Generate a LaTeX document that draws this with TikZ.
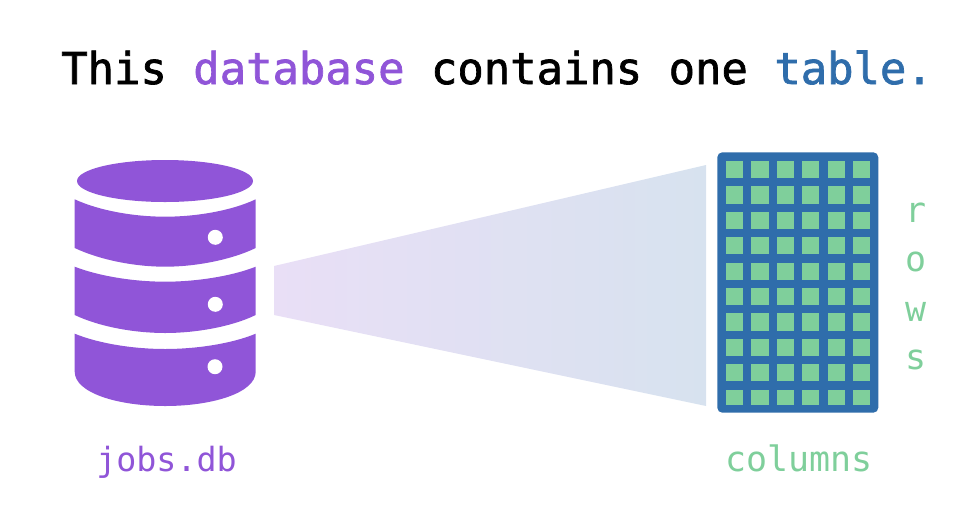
\documentclass[tikz,border=0pt]{standalone}
\usepackage{fontspec}
\setmonofont{DejaVu Sans Mono}
\newfontfamily\titlefont[RawFeature={embolden=1.6}]{DejaVu Sans Mono}
\newfontfamily\lblfont{DejaVu Sans Mono}
\definecolor{dbpurple}{HTML}{9055D8}
\definecolor{tblblue}{HTML}{2F6DAB}
\definecolor{cellgreen}{HTML}{7FCF9B}
\definecolor{fadeL}{HTML}{E9DFF6}
\definecolor{fadeR}{HTML}{D7E2EF}
\tikzset{
  x=0.75pt,y=-0.75pt,
  titletext/.style={anchor=base west,inner sep=0pt,font=\titlefont\fontsize{32.9}{33}\selectfont},
  labeltext/.style={anchor=base,inner sep=0pt,text=cellgreen,font=\lblfont\fontsize{26.2}{26.2}\selectfont},
  hole/.style={fill=white,draw=none},
  cell/.style={fill=cellgreen,draw=none},
}
\begin{document}
\begin{tikzpicture}
\useasboundingbox (0,0) rectangle (976,512);
\node[titletext] (title) at (61,84) {This \textcolor{dbpurple}{database} contains one \textcolor{tblblue}{table.}};
% database icon
\fill[dbpurple] (165,181) ellipse [x radius=88,y radius=21];
\fill[dbpurple] (74.7,199.3) .. controls (100,211) and (135,216.7) .. (165.2,216.7) .. controls (195,216.7) and (231,211) .. (255.7,199.3)
  -- (255.7,248) .. controls (231,260) and (195,266.7) .. (165.2,266.7) .. controls (135,266.7) and (100,260) .. (74.7,248) -- cycle;
\fill[dbpurple] (74.7,266.7) .. controls (100,276.5) and (135,281.7) .. (165.2,281.7) .. controls (195,281.7) and (231,276.5) .. (255.7,266.7)
  -- (255.7,315) .. controls (231,327) and (195,333) .. (165.2,333) .. controls (135,333) and (100,327) .. (74.7,315) -- cycle;
\fill[dbpurple] (74.7,333.7) .. controls (100,344) and (135,349) .. (165.2,349) .. controls (195,349) and (231,344) .. (255.7,333.7)
  -- (255.7,371.7) .. controls (255.7,393) and (212,406) .. (165.2,406) .. controls (118,406) and (74.7,393) .. (74.7,371.7) -- cycle;
\fill[hole] (215.3,237.3) circle [radius=7.5];
\fill[hole] (215.3,304.3) circle [radius=7.5];
\fill[hole] (215,366.7) circle [radius=7.5];
% funnel
\shade[left color=fadeL,right color=fadeR] (274,266) -- (706,165) -- (706,406) -- (274,315) -- cycle;
% table
\fill[tblblue,rounded corners=5*0.75pt] (717.3,152.3) rectangle (878.3,412.7);
\foreach \cx in {725.7,751.3,777,802,827.7,853}{
  \foreach \cy in {160.7,186.3,212,237,262.7,288,313.3,338.7,364}{
    \fill[cell] (\cx,\cy) rectangle ++(17.2,17.2);
  }
  \fill[cell] (\cx,389.7) rectangle ++(17.2,15);
}
% labels
\node[labeltext,text=dbpurple,font=\lblfont\fontsize{25}{25}\selectfont] (dbname) at (166.5,471) {jobs.db};
\node[labeltext] (cols) at (799,471) {columns};
\node[labeltext] (r) at (916,222) {r};
\node[labeltext] (o) at (916,271) {o};
\node[labeltext] (w) at (916,321) {w};
\node[labeltext] (s) at (916,369) {s};
\end{tikzpicture}
\end{document}
